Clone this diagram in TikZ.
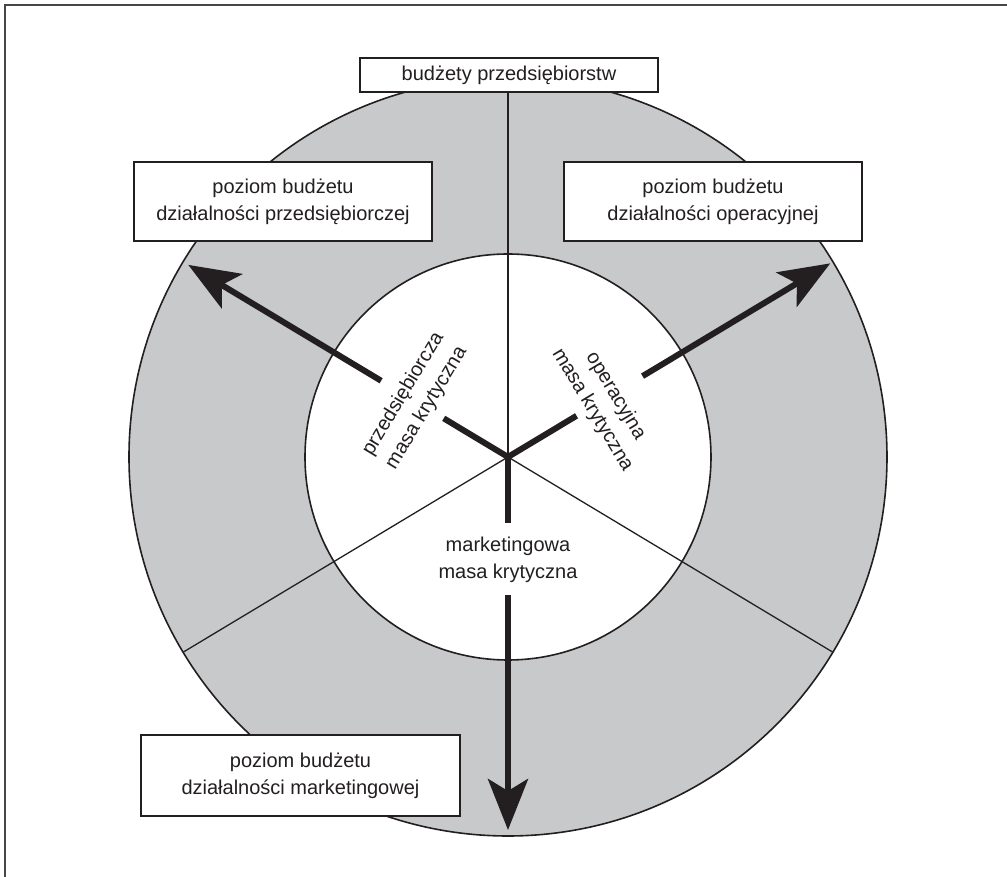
\documentclass[tikz,border=0pt]{standalone}
\usepackage{fontspec}
\setmainfont{Liberation Sans}
\usetikzlibrary{arrows.meta,calc}
\definecolor{ringgray}{RGB}{200,201,203}
\definecolor{ink}{RGB}{35,31,32}
\definecolor{framegray}{RGB}{70,70,70}

\tikzset{
  txt/.style={font=\fontsize{20}{27}\selectfont, text=ink, align=center},
  budgetbox/.style={txt, draw=ink, line width=1.3pt, fill=white, inner sep=0pt},
  divider/.style={draw=ink, line width=1.3pt},
  spoke/.style={draw=ink, line width=6pt},
  spokearrow/.style={spoke, -{Stealth[length=51pt,width=40pt,inset=12pt]}},
}

\begin{document}
\begin{tikzpicture}[x=1pt,y=1pt]
\useasboundingbox (-508,-420) rectangle (499,457);

% open frame: top and left edges only
\draw[framegray, line width=1.8pt] (-503,-420) -- (-503,452) -- (499,452);

% outer ring and inner disc
\coordinate (c) at (0,0);
\fill[ringgray] (c) circle (379);
\fill[white] (c) circle (203);

% sector dividers
\coordinate (dtop) at (90:379);
\coordinate (dleft) at (211:379);
\coordinate (dright) at (329:379);
\draw[divider] (c) -- (dtop);
\draw[divider] (c) -- (dleft);
\draw[divider] (c) -- (dright);

% circle outlines
\draw[ink, line width=1.6pt] (c) circle (379);
\draw[ink, line width=1.6pt] (c) circle (203);

% thick spokes with gaps for the labels
\coordinate (l1) at (149:75);
\coordinate (l2) at (149:148);
\coordinate (l3) at (149:373);
\coordinate (r1) at (31:80);
\coordinate (r2) at (31:157);
\coordinate (r3) at (31:376);
\coordinate (b1) at (270:66);
\coordinate (b2) at (270:138);
\coordinate (b3) at (270:373);
\draw[spoke] (l1) -- (c) -- (r1);
\draw[spoke] (c) -- (b1);
\draw[spokearrow] (l2) -- (l3);
\draw[spokearrow] (r2) -- (r3);
\draw[spokearrow] (b2) -- (b3);

% labels inside the disc
\node[txt, rotate=59] (lpred) at (-93,56) {przedsiębiorcza\\masa krytyczna};
\node[txt, rotate=-59] (lop) at (96,54) {operacyjna\\masa krytyczna};
\node[txt] (lmark) at (0,-103) {marketingowa\\masa krytyczna};

% budget boxes
\node[budgetbox, minimum width=298pt, minimum height=34pt] (btop) at (1,382) {budżety przedsiębiorstw};
\node[budgetbox, minimum width=298pt, minimum height=79pt] (bleft) at (-225,255.5) {poziom budżetu\\działalności przedsiębiorczej};
\node[budgetbox, minimum width=298pt, minimum height=79pt] (bright) at (205,255.5) {poziom budżetu\\działalności operacyjnej};
\node[budgetbox, minimum width=319pt, minimum height=81pt] (bbottom) at (-207.5,-318.5) {poziom budżetu\\działalności marketingowej};
\end{tikzpicture}
\end{document}
